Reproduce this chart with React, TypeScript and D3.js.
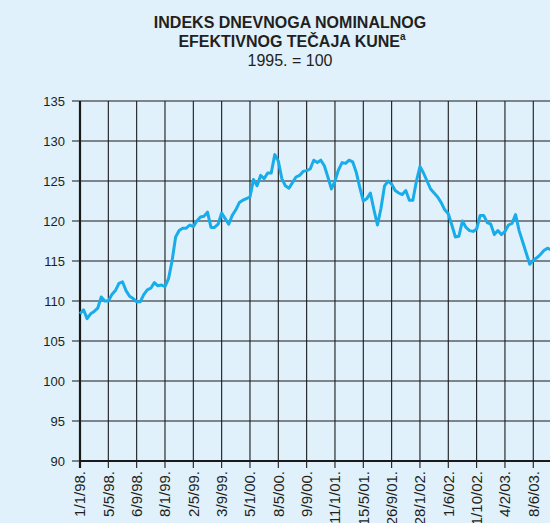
import { useEffect, useRef } from "react";
import * as d3 from "d3";

// tick dates along the bottom, one every 8 readings
const dateLabels = [
  "1/1/98.", "5/5/98.", "6/9/98.", "8/1/99.", "2/5/99.", "3/9/99.",
  "5/1/00.", "8/5/00.", "9/9/00.", "11/1/01.", "15/5/01.", "26/9/01.",
  "28/1/02.", "1/6/02.", "11/10/02.", "4/2/03.", "8/6/03.",
];

const yTicks = [90, 95, 100, 105, 110, 115, 120, 125, 130, 135];

const readingsPerLabel = 8;

// index values
const indexValues = [
  108.4, 108.9, 107.8, 108.4, 108.7, 109.1, 110.5, 110.0,
  110.0, 110.8, 111.3, 112.2, 112.4, 111.3, 110.6, 110.3,
  109.9, 109.9, 110.8, 111.4, 111.6, 112.3, 111.9, 112.0,
  111.8, 112.8, 115.0, 118.0, 118.8, 119.1, 119.1, 119.5,
  119.3, 120.0, 120.5, 120.6, 121.1, 119.2, 119.2, 119.6,
  121.0, 120.3, 119.6, 120.7, 121.4, 122.3, 122.6, 122.8,
  123.0, 125.2, 124.4, 125.7, 125.3, 126.0, 126.0, 128.3,
  127.5, 125.3, 124.4, 124.1, 124.8, 125.5, 125.7, 126.2,
  126.3, 126.5, 127.6, 127.3, 127.6, 126.9, 125.5, 124.0,
  125.0, 126.4, 127.3, 127.2, 127.6, 127.4, 126.1, 124.2,
  122.5, 122.8, 123.5, 121.4, 119.5, 121.6, 124.4, 125.0,
  124.6, 123.8, 123.5, 123.3, 123.8, 122.6, 122.6, 125.0,
  126.8, 126.0, 125.0, 124.0, 123.5, 123.0, 122.3, 121.4,
  120.9, 119.5, 118.0, 118.1, 120.0, 119.2, 118.8, 118.7,
  119.0, 120.7, 120.7, 119.8, 119.6, 118.3, 118.8, 118.3,
  118.7, 119.5, 119.7, 120.8, 118.8, 117.4, 116.0, 114.6,
  115.1, 115.4, 115.8, 116.3, 116.6, 116.4,
];

export default function App() {
  const svgRef = useRef(null);

  useEffect(() => {
    const width = 550;
    const height = 523;
    const left = 80;
    const top = 101;
    const bottom = 461;
    const step = 28.33;

    const svg = d3.select(svgRef.current);
    svg.selectAll("*").remove();
    svg.attr("width", width).attr("height", height);

    svg.append("rect")
      .attr("width", width)
      .attr("height", height)
      .attr("fill", "#e0f1fb");

    const font = "'Liberation Sans', Arial, sans-serif";

    const title = svg.append("g")
      .attr("font-family", font)
      .attr("fill", "#231f20")
      .attr("text-anchor", "middle");
    title.append("text")
      .attr("x", 290).attr("y", 28)
      .attr("font-size", 16).attr("font-weight", "bold")
      .text("INDEKS DNEVNOGA NOMINALNOG");
    const t2 = title.append("text")
      .attr("x", 292).attr("y", 47)
      .attr("font-size", 16).attr("font-weight", "bold");
    t2.append("tspan").text("EFEKTIVNOG TEČAJA KUNE");
    t2.append("tspan")
      .attr("font-size", 10).attr("dy", -7)
      .text("a");
    title.append("text")
      .attr("x", 290).attr("y", 66)
      .attr("font-size", 16)
      .text("1995. = 100");

    const x = d3.scaleLinear()
      .domain([0, dateLabels.length - 1])
      .range([left, left + step * (dateLabels.length - 1)]);

    const y = d3.scaleLinear()
      .domain([90, 135])
      .range([bottom, top]);

    const grid = svg.append("g")
      .attr("stroke", "#1a1a1a")
      .attr("stroke-width", 1.1);

    grid.selectAll(".h")
      .data(yTicks)
      .join("line")
      .attr("x1", left - 8).attr("x2", width)
      .attr("y1", (d) => y(d)).attr("y2", (d) => y(d));

    grid.selectAll(".v")
      .data(dateLabels.map((_, i) => i).concat([dateLabels.length]))
      .join("line")
      .attr("x1", (d) => x(d)).attr("x2", (d) => x(d))
      .attr("y1", top).attr("y2", bottom + 7);

    svg.append("line")
      .attr("x1", left).attr("x2", width)
      .attr("y1", bottom).attr("y2", bottom)
      .attr("stroke", "#1a1a1a").attr("stroke-width", 2.2);
    svg.append("line")
      .attr("x1", left).attr("x2", left)
      .attr("y1", top).attr("y2", bottom + 7)
      .attr("stroke", "#1a1a1a").attr("stroke-width", 2.2);

    svg.append("g")
      .attr("font-family", font)
      .attr("font-size", 13)
      .attr("fill", "#231f20")
      .attr("text-anchor", "end")
      .selectAll("text")
      .data(yTicks)
      .join("text")
      .attr("x", 65)
      .attr("y", (d) => y(d))
      .attr("dy", "0.36em")
      .text((d) => d);

    svg.append("g")
      .attr("font-family", font)
      .attr("font-size", 15)
      .attr("fill", "#231f20")
      .attr("text-anchor", "end")
      .selectAll("text")
      .data(dateLabels)
      .join("text")
      .attr("transform", (_, i) => `translate(${x(i)}, 471) rotate(-90)`)
      .attr("dy", "0.36em")
      .text((d) => d);

    const line = d3.line()
      .x((_, i) => x(i / readingsPerLabel))
      .y((d) => y(d));

    svg.append("path")
      .datum(indexValues)
      .attr("d", line)
      .attr("fill", "none")
      .attr("stroke", "#19acea")
      .attr("stroke-width", 3)
      .attr("stroke-linejoin", "round");
  }, []);

  return (
    <svg
      ref={svgRef}
      style={{ position: "fixed", left: 0, top: 0, display: "block" }}
    />
  );
}
